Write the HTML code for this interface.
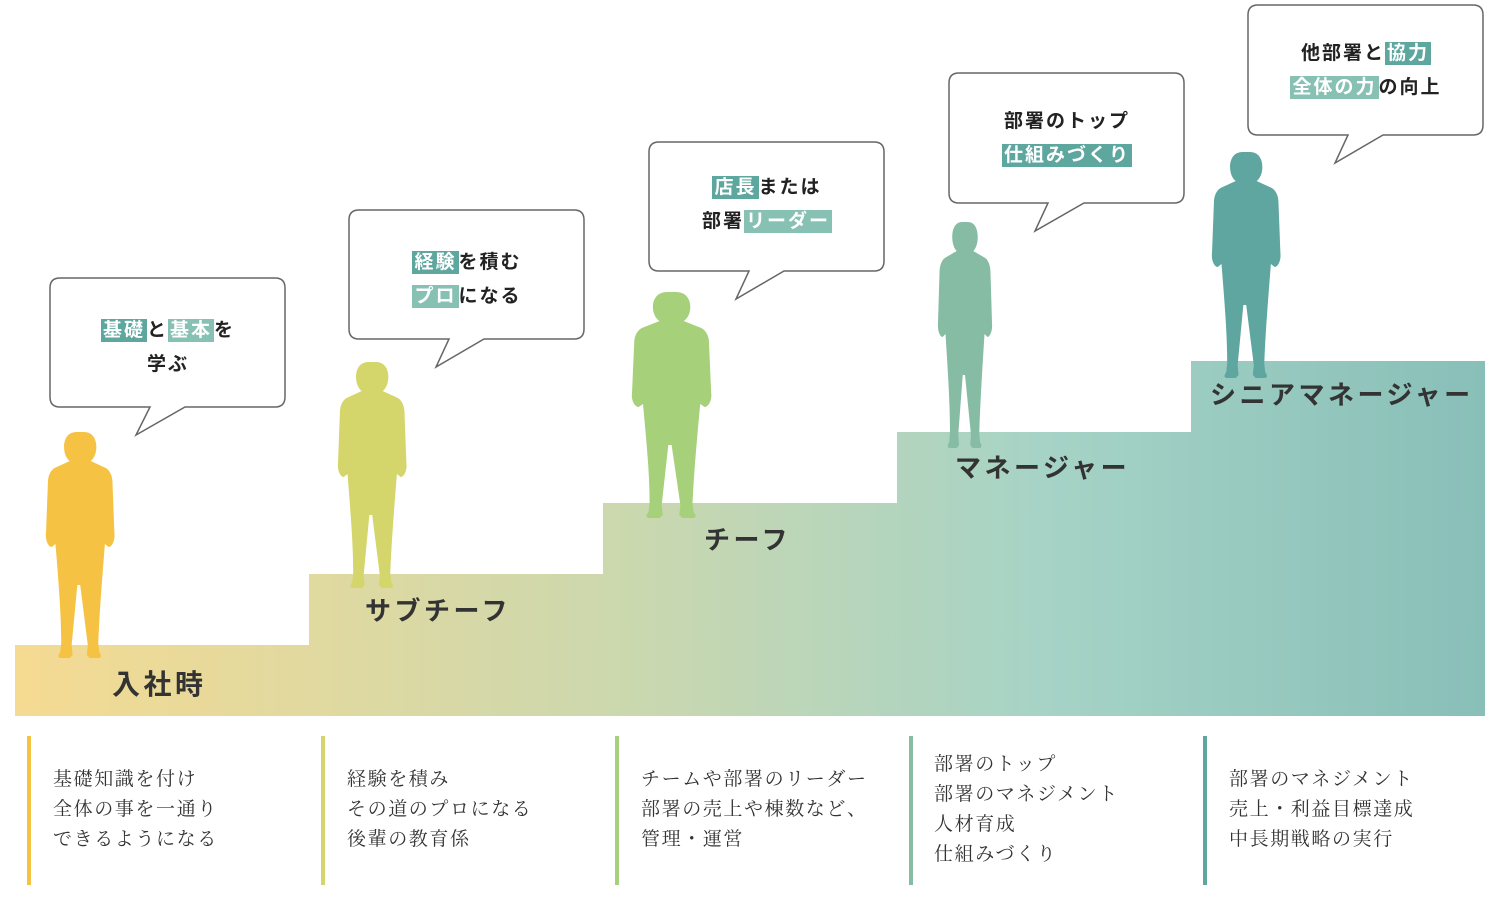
<!DOCTYPE html>
<html><head><meta charset="utf-8"><style>
body{margin:0;width:1500px;height:900px;background:#fff;position:relative;overflow:hidden;font-family:"Liberation Sans","Noto Sans CJK JP",sans-serif;}
.lbl{position:absolute;font-weight:bold;color:#333;font-size:26px;letter-spacing:3.5px;white-space:nowrap;line-height:1}
.bt{position:absolute;font-family:"Liberation Serif","Noto Serif CJK JP",serif;font-size:19px;line-height:30px;color:#333;white-space:nowrap;letter-spacing:1.6px}
.bar{position:absolute;width:4px;top:736px;height:149px}
.bb{position:absolute;width:236px;text-align:center;font-weight:bold;font-size:19px;line-height:34px;color:#222;letter-spacing:2px}
.d{background:#5ea79f;color:#fff;padding:1px 2px}
.l{background:#86c1b3;color:#fff;padding:1px 2px}
</style></head><body>
<svg width="1500" height="900" style="position:absolute;left:0;top:0">
<defs><linearGradient id="g" x1="15" x2="1485" gradientUnits="userSpaceOnUse">
<stop offset="0" stop-color="#f5da92"/><stop offset="0.4" stop-color="#cdd8ad"/><stop offset="0.7" stop-color="#a6d3c6"/><stop offset="1" stop-color="#88bfb8"/></linearGradient>
<path id="p" d="M40 0c9 0 13 7 13 15 0 7-3 12-6 14l16 7c5 3 7 9 7 15l2 50c1 8-3 14-6 14l-4-3-2 24c-2 25-4 50-5 75l1 9c2 3 3 5 0 6h-10l-3-3 1-10-8-60-3 0-6 60 1 10-3 3h-10c-3-1-2-3 0-6l1-9c0-25-2-50-4-75l-2-24-4 3c-3 0-7-6-6-14l2-50c0-6 2-12 7-15l16-7c-3-2-6-7-6-14 0-8 4-15 13-15z"/></defs>
<path d="M15 645H309V574H603V503H897V432H1191V361H1485V716H15Z" fill="url(#g)"/>
<g fill="#fff" stroke="#666" stroke-width="1.5">
<path d="M60 278H275Q285 278 285 288V397Q285 407 275 407H185L136 435L150 407H60Q50 407 50 397V288Q50 278 60 278Z"/>
<path d="M359 210H574Q584 210 584 220V329Q584 339 574 339H484L436 367L449 339H359Q349 339 349 329V220Q349 210 359 210Z"/>
<path d="M659 142H874Q884 142 884 152V261Q884 271 874 271H784L736 299L749 271H659Q649 271 649 261V152Q649 142 659 142Z"/>
<path d="M959 73H1174Q1184 73 1184 83V193Q1184 203 1174 203H1084L1035 231L1048 203H959Q949 203 949 193V83Q949 73 959 73Z"/>
<path d="M1258 5H1473Q1483 5 1483 15V125Q1483 135 1473 135H1383L1335 163L1348 135H1258Q1248 135 1248 125V15Q1248 5 1258 5Z"/>
</g>
<use href="#p" transform="translate(46,432) scale(0.95,1)" fill="#f6c244"/>
<use href="#p" transform="translate(338,362) scale(0.95,1)" fill="#d4d56a"/>
<use href="#p" transform="translate(632,292) scale(1.1,1)" fill="#a6d07a"/>
<use href="#p" transform="translate(938,222) scale(0.75,1)" fill="#86bba4"/>
<use href="#p" transform="translate(1212,152) scale(0.95,1)" fill="#5fa6a0"/>
</svg>
<div class="bb" style="left:50px;top:314px"><span class="d">基礎</span>と<span class="l">基本</span>を<br>学ぶ</div>
<div class="bb" style="left:349px;top:246px"><span class="d">経験</span>を積む<br><span class="l">プロ</span>になる</div>
<div class="bb" style="left:649px;top:171px"><span class="d">店長</span>または<br>部署<span class="l">リーダー</span></div>
<div class="bb" style="left:949px;top:105px">部署のトップ<br><span class="d">仕組みづくり</span></div>
<div class="bb" style="left:1248px;top:37px">他部署と<span class="d">協力</span><br><span class="l">全体の力</span>の向上</div>
<div class="lbl" style="left:112px;top:671px;font-size:28px">入社時</div>
<div class="lbl" style="left:365px;top:598px">サブチーフ</div>
<div class="lbl" style="left:704px;top:527px">チーフ</div>
<div class="lbl" style="left:955px;top:455px">マネージャー</div>
<div class="lbl" style="left:1210px;top:382px">シニアマネージャー</div>
<div class="bar" style="left:27px;background:#f6c244"></div>
<div class="bar" style="left:321px;background:#d4d56a"></div>
<div class="bar" style="left:615px;background:#a6d07a"></div>
<div class="bar" style="left:909px;background:#86bba4"></div>
<div class="bar" style="left:1203px;background:#5fa6a0"></div>
<div class="bt" style="left:53px;top:765px">基礎知識を付け<br>全体の事を一通り<br>できるようになる</div>
<div class="bt" style="left:347px;top:765px">経験を積み<br>その道のプロになる<br>後輩の教育係</div>
<div class="bt" style="left:641px;top:765px">チームや部署のリーダー<br>部署の売上や棟数など、<br>管理・運営</div>
<div class="bt" style="left:934px;top:750px">部署のトップ<br>部署のマネジメント<br>人材育成<br>仕組みづくり</div>
<div class="bt" style="left:1229px;top:765px">部署のマネジメント<br>売上・利益目標達成<br>中長期戦略の実行</div>
</body></html>
